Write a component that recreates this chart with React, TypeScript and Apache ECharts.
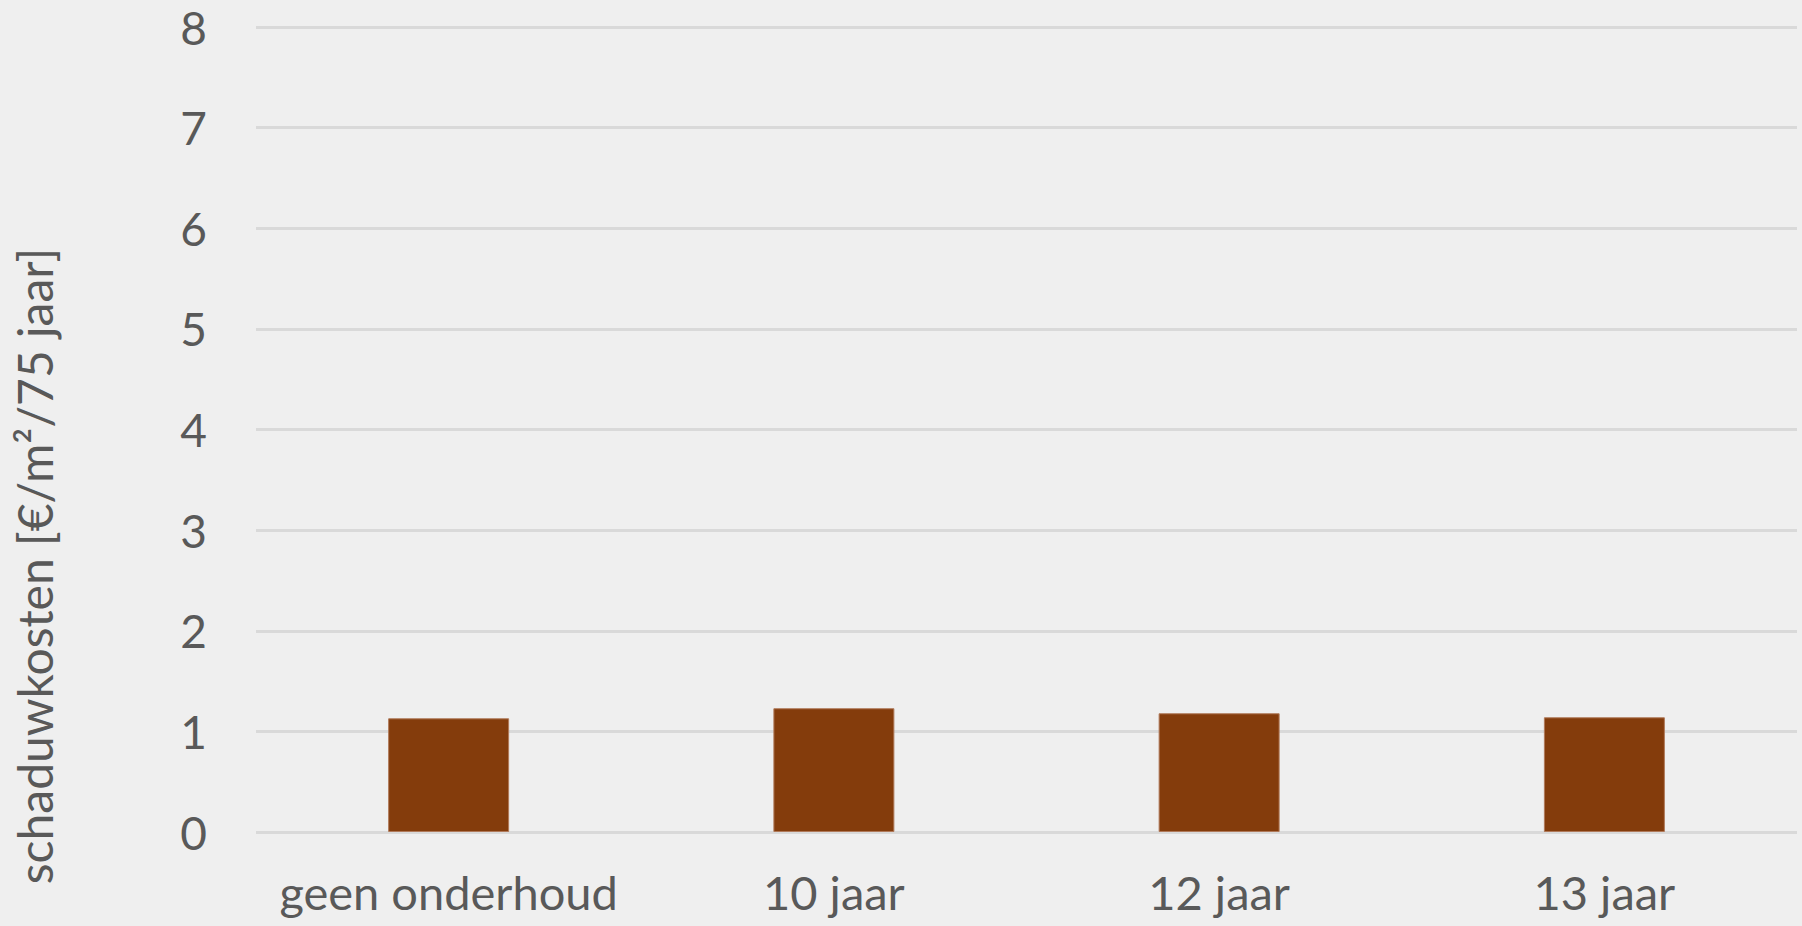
import React, { useEffect, useRef } from "react";
import * as echarts from "echarts";

const categories = ["geen onderhoud", "10 jaar", "12 jaar", "13 jaar"];
const values = [1.13, 1.23, 1.18, 1.14];
const yTicks = [0, 1, 2, 3, 4, 5, 6, 7, 8];
const yAxisName = "schaduwkosten [€/m²/75 jaar]";

export default function App() {
  const ref = useRef<HTMLDivElement>(null);
  useEffect(() => {
    if (!ref.current) return;
    const chart = echarts.init(ref.current, null, { renderer: "svg" });
    const font = "Lato, 'Open Sans', sans-serif";
    chart.setOption({
      animation: false,
      backgroundColor: "#efefef",
      grid: { left: 256, right: 5, top: 27, bottom: 94, containLabel: false },
      graphic: [
        {
          type: "text",
          x: 34,
          y: 566,
          rotation: Math.PI / 2,
          style: {
            text: yAxisName,
            fill: "#595959",
            fontSize: 48,
            fontFamily: font,
            textAlign: "center",
            textVerticalAlign: "middle",
          },
        },
      ],
      xAxis: {
        type: "category",
        data: categories,
        axisLine: { show: false },
        axisTick: { show: false },
        axisLabel: { color: "#595959", fontSize: 47, fontFamily: font, margin: 36, interval: 0 },
      },
      yAxis: {
        type: "value",
        min: yTicks[0],
        max: yTicks[yTicks.length - 1],
        interval: 1,
        axisLine: { show: false },
        axisTick: { show: false },
        axisLabel: { color: "#595959", fontSize: 46, fontFamily: font, margin: 49 },
        splitLine: { lineStyle: { color: "#d9d9d9", width: 3 } },
      },
      series: [
        {
          type: "bar",
          data: values,
          barWidth: 121,
          itemStyle: { color: "#843C0C", borderColor: "#b07a5a", borderWidth: 1 },
        },
      ],
    });
    return () => chart.dispose();
  }, []);
  return (
    <div
      ref={ref}
      style={{ position: "fixed", left: 0, top: 0, width: 1802, height: 926 }}
    />
  );
}
